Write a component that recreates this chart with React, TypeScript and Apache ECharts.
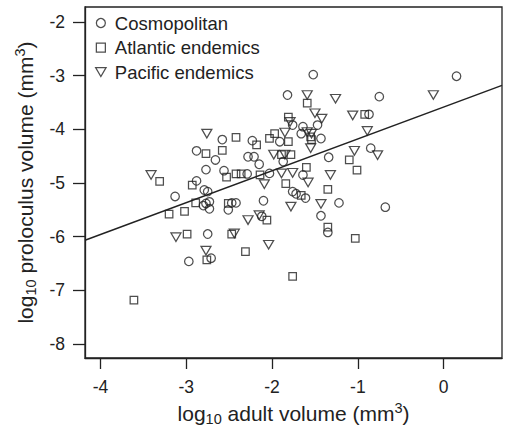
import React, { useEffect, useRef } from "react";
import * as echarts from "echarts";

// log10 adult volume, log10 proloculus volume
const cosmopolitan: [number, number][] = [
  [-1.82, -3.36], [-1.52, -2.98], [0.15, -3.01], [-0.75, -3.39], [-0.87, -3.72],
  [-0.85, -4.35], [-1.34, -4.52], [-1.43, -4.17], [-1.47, -3.92], [-1.64, -3.95],
  [-1.76, -3.92], [-1.66, -4.08], [-1.91, -4.23], [-1.87, -4.6], [-1.64, -4.85],
  [-2.03, -4.82], [-1.76, -5.16], [-1.72, -5.2], [-1.61, -5.28], [-1.22, -5.37],
  [-0.68, -5.45], [-1.43, -5.61], [-1.35, -5.92], [-2.1, -5.33], [-2.12, -5.62],
  [-2.58, -4.19], [-2.23, -4.21], [-2.88, -4.4], [-2.66, -4.57], [-2.77, -4.75],
  [-2.28, -4.51], [-2.21, -4.51], [-2.15, -4.65], [-2.56, -4.77], [-2.29, -4.83],
  [-2.88, -4.96], [-2.79, -5.13], [-2.75, -5.16], [-3.13, -5.25], [-2.77, -5.38],
  [-2.73, -5.35], [-2.8, -5.42], [-2.73, -5.48], [-2.47, -5.37], [-2.42, -5.37],
  [-2.51, -5.5], [-2.75, -5.95], [-2.71, -6.4], [-2.97, -6.46],
];

const atlanticEndemics: [number, number][] = [
  [-1.59, -3.51], [-0.92, -3.72], [-1.81, -3.77], [-2.03, -4.17], [-1.97, -4.08],
  [-1.81, -4.23], [-1.55, -4.14], [-1.54, -4.19], [-1.89, -4.47], [-1.78, -4.47],
  [-1.1, -4.57], [-1.01, -4.76], [-1.6, -4.71], [-1.84, -5.01], [-1.66, -5.23],
  [-1.35, -5.12], [-1.35, -5.82], [-1.03, -6.03], [-1.76, -6.74], [-2.06, -5.69],
  [-2.14, -4.85], [-2.42, -4.15], [-2.18, -4.29], [-2.77, -4.45], [-2.58, -4.39],
  [-2.53, -4.89], [-2.42, -4.83], [-2.36, -4.83], [-3.31, -4.97], [-2.93, -5.04],
  [-3.2, -5.58], [-3.02, -5.53], [-2.89, -5.37], [-2.51, -5.38], [-2.99, -5.95],
  [-2.47, -5.95], [-2.31, -6.28], [-2.76, -6.43], [-3.61, -7.18],
];

const pacificEndemics: [number, number][] = [
  [-1.59, -3.36], [-1.26, -3.43], [-0.12, -3.36], [-1.06, -3.74], [-0.89, -4.03],
  [-1.04, -4.4], [-0.77, -4.48], [-1.32, -4.85], [-1.43, -5.39], [-1.5, -3.7],
  [-1.42, -3.8], [-1.79, -3.86], [-1.85, -4.06], [-1.59, -4.05], [-1.54, -4.08],
  [-1.55, -4.35], [-1.98, -4.47], [-1.85, -4.47], [-1.89, -4.82], [-1.76, -4.81],
  [-1.58, -4.99], [-2.09, -5.02], [-1.78, -5.44], [-2.15, -5.6], [-2.28, -5.69],
  [-2.04, -6.15], [-2.76, -4.08], [-3.41, -4.85], [-3.12, -6.01], [-2.44, -5.94],
  [-2.77, -6.26],
];

const X_TICKS = [-4, -3, -2, -1, 0];
const Y_TICKS = [-8, -7, -6, -5, -4, -3, -2];
const X_RANGE = [-4.18, 0.68];
const Y_RANGE = [-8.26, -1.72];

// fitted regression line
const REG_INTERCEPT = -3.584;
const REG_SLOPE = 0.594;

const INK = "#222222";
const FONT = "'Liberation Sans', Arial, Helvetica, sans-serif";
const DOWN_TRIANGLE = "path://M0,0L10,0L5,8.6Z";
const SQUARE = "path://M0,0L10,0L10,10L0,10Z";

export default function App() {
  const ref = useRef<HTMLDivElement>(null);

  useEffect(() => {
    if (!ref.current) return;
    const chart = echarts.init(ref.current, null, { renderer: "svg" });

    const regLine = [X_RANGE[0], X_RANGE[1]].map((x) => [x, REG_INTERCEPT + REG_SLOPE * x]);

    const markerStyle = {
      color: "rgba(0,0,0,0)",
      borderColor: INK,
      borderWidth: 1.25,
    };

    const titleRich = {
      a: { fontSize: 21, fontFamily: FONT, color: INK, lineHeight: 26 },
      sub: { fontSize: 14.5, fontFamily: FONT, color: INK, lineHeight: 16, verticalAlign: "bottom" },
      sup: { fontSize: 14.5, fontFamily: FONT, color: INK, lineHeight: 16, verticalAlign: "top" },
    };

    chart.setOption({
      animation: false,
      backgroundColor: "#ffffff",
      textStyle: { fontFamily: FONT, color: INK },
      grid: {
        left: 85,
        top: 7,
        right: 3,
        bottom: 72,
        show: true,
        borderColor: INK,
        borderWidth: 1.3,
        containLabel: false,
        outerBoundsMode: "none",
      },
      legend: {
        orient: "vertical",
        left: 95,
        top: 13,
        padding: 0,
        itemWidth: 18,
        itemHeight: 9,
        itemGap: 4.5,
        symbolKeepAspect: true,
        itemStyle: { borderWidth: 1.25, borderColor: INK, color: "rgba(0,0,0,0)" },
        textStyle: { fontSize: 18.5, fontFamily: FONT, color: INK, lineHeight: 20 },
        data: ["Cosmopolitan", "Atlantic endemics", "Pacific endemics"],
      },
      xAxis: {
        type: "value",
        min: X_RANGE[0],
        max: X_RANGE[1],
        splitLine: { show: false },
        axisLine: { show: true, onZero: false, lineStyle: { color: INK, width: 1.3 } },
        axisTick: { show: true, length: 11, customValues: X_TICKS, lineStyle: { color: INK, width: 1.3 } },
        axisLabel: { customValues: X_TICKS, margin: 20, fontSize: 17.5, fontFamily: FONT, color: INK },
        name: "{a|log}{sub|10}{a| adult volume (mm}{sup|3}{a|)}",
        nameLocation: "middle",
        nameGap: 37,
        nameTextStyle: { rich: titleRich },
      },
      yAxis: {
        type: "value",
        min: Y_RANGE[0],
        max: Y_RANGE[1],
        splitLine: { show: false },
        axisLine: { show: true, onZero: false, lineStyle: { color: INK, width: 1.3 } },
        axisTick: { show: true, length: 12, customValues: Y_TICKS, lineStyle: { color: INK, width: 1.3 } },
        axisLabel: { customValues: Y_TICKS, margin: 20, fontSize: 17.5, fontFamily: FONT, color: INK },
        name: "{a|log}{sub|10}{a| proloculus volume (mm}{sup|3}{a|)}",
        nameLocation: "middle",
        nameGap: 46,
        nameRotate: 90,
        nameTextStyle: { rich: titleRich },
      },
      series: [
        {
          type: "line",
          name: "fit",
          data: regLine,
          symbol: "none",
          lineStyle: { color: INK, width: 1.5 },
          silent: true,
          clip: true,
          z: 1,
        },
        {
          type: "scatter",
          name: "Cosmopolitan",
          data: cosmopolitan,
          symbol: "circle",
          symbolSize: 8.5,
          itemStyle: markerStyle,
          z: 2,
        },
        {
          type: "scatter",
          name: "Atlantic endemics",
          data: atlanticEndemics,
          symbol: SQUARE,
          symbolSize: 7.5,
          itemStyle: markerStyle,
          z: 2,
        },
        {
          type: "scatter",
          name: "Pacific endemics",
          data: pacificEndemics,
          symbol: DOWN_TRIANGLE,
          symbolSize: [10, 8.6],
          itemStyle: markerStyle,
          z: 2,
        },
      ],
    });

    return () => chart.dispose();
  }, []);

  return (
    <div
      ref={ref}
      style={{ position: "fixed", left: 0, top: 0, width: 505, height: 430, background: "#fff" }}
    />
  );
}
